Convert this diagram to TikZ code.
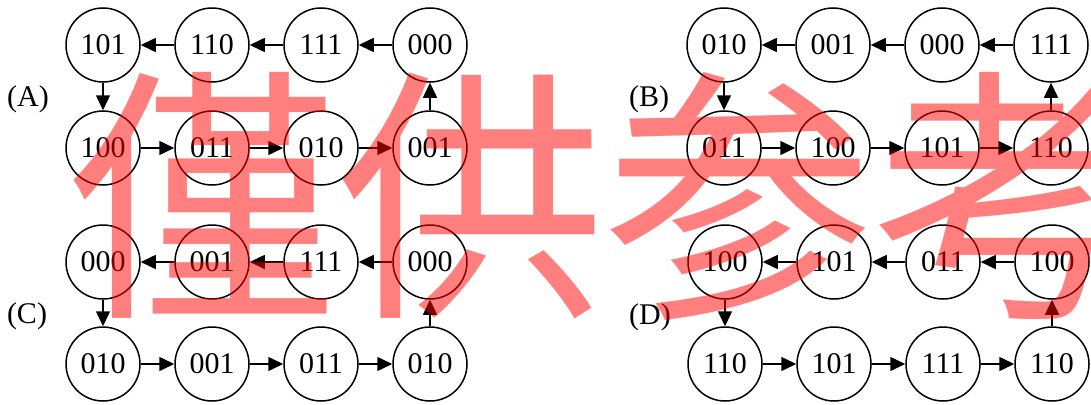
\documentclass[tikz,border=0pt]{standalone}
\usepackage{fontspec}
\setmainfont{Liberation Serif}
\newfontfamily\cjkfont{Noto Sans CJK JP}
\usetikzlibrary{arrows.meta}
\begin{document}
\begin{tikzpicture}[x=1pt,y=-1pt,
  state/.style={circle,draw,line width=1.5pt,minimum size=74pt,inner sep=0pt,font=\fontsize{30}{30}\selectfont},
  arr/.style={line width=1.5pt,-{Triangle[length=15pt,width=14pt]}},
  lbl/.style={font=\fontsize{30}{30}\selectfont,inner sep=0pt},
  wm/.style={text=red,text opacity=0.5,font=\cjkfont\fontsize{268}{268}\selectfont,inner sep=0pt}]
\useasboundingbox (0,0) rectangle (1091,404);
\clip (0,0) rectangle (1091,404);
% Panel A
\node[state] (a1) at (103,45) {101};
\node[state] (a2) at (212,45) {110};
\node[state] (a3) at (321,45) {111};
\node[state] (a4) at (430,45) {000};
\node[state] (a5) at (103,148) {100};
\node[state] (a6) at (212,148) {011};
\node[state] (a7) at (321,148) {010};
\node[state] (a8) at (430,148) {001};
\node[lbl] (la) at (28,99) {(A)};
\draw[arr] (a4) -- (a3);
\draw[arr] (a3) -- (a2);
\draw[arr] (a2) -- (a1);
\draw[arr] (a1) -- (a5);
\draw[arr] (a5) -- (a6);
\draw[arr] (a6) -- (a7);
\draw[arr] (a7) -- (a8);
\draw[arr] (a8) -- (a4);
% Panel B
\node[state] (b1) at (724,45) {010};
\node[state] (b2) at (833,45) {001};
\node[state] (b3) at (942,45) {000};
\node[state] (b4) at (1051,45) {111};
\node[state] (b5) at (724,148) {011};
\node[state] (b6) at (833,148) {100};
\node[state] (b7) at (942,148) {101};
\node[state] (b8) at (1051,148) {110};
\node[lbl] (lb) at (649,99) {(B)};
\draw[arr] (b4) -- (b3);
\draw[arr] (b3) -- (b2);
\draw[arr] (b2) -- (b1);
\draw[arr] (b1) -- (b5);
\draw[arr] (b5) -- (b6);
\draw[arr] (b6) -- (b7);
\draw[arr] (b7) -- (b8);
\draw[arr] (b8) -- (b4);
% Panel C
\node[state] (c1) at (103,262) {000};
\node[state] (c2) at (212,262) {001};
\node[state] (c3) at (321,262) {111};
\node[state] (c4) at (430,262) {000};
\node[state] (c5) at (103,364) {010};
\node[state] (c6) at (212,364) {001};
\node[state] (c7) at (321,364) {011};
\node[state] (c8) at (430,364) {010};
\node[lbl] (lc) at (27,316) {(C)};
\draw[arr] (c4) -- (c3);
\draw[arr] (c3) -- (c2);
\draw[arr] (c2) -- (c1);
\draw[arr] (c1) -- (c5);
\draw[arr] (c5) -- (c6);
\draw[arr] (c6) -- (c7);
\draw[arr] (c7) -- (c8);
\draw[arr] (c8) -- (c4);
% Panel D
\node[state] (d1) at (725,262) {100};
\node[state] (d2) at (834,262) {101};
\node[state] (d3) at (943,262) {011};
\node[state] (d4) at (1052,262) {100};
\node[state] (d5) at (725,364) {110};
\node[state] (d6) at (834,364) {101};
\node[state] (d7) at (943,364) {111};
\node[state] (d8) at (1052,364) {110};
\node[lbl] (ld) at (650,317) {(D)};
\draw[arr] (d4) -- (d3);
\draw[arr] (d3) -- (d2);
\draw[arr] (d2) -- (d1);
\draw[arr] (d1) -- (d5);
\draw[arr] (d5) -- (d6);
\draw[arr] (d6) -- (d7);
\draw[arr] (d7) -- (d8);
\draw[arr] (d8) -- (d4);
% watermark
\node[wm] (wmk) at (605,196) {僅供参考};
\end{tikzpicture}
\end{document}
